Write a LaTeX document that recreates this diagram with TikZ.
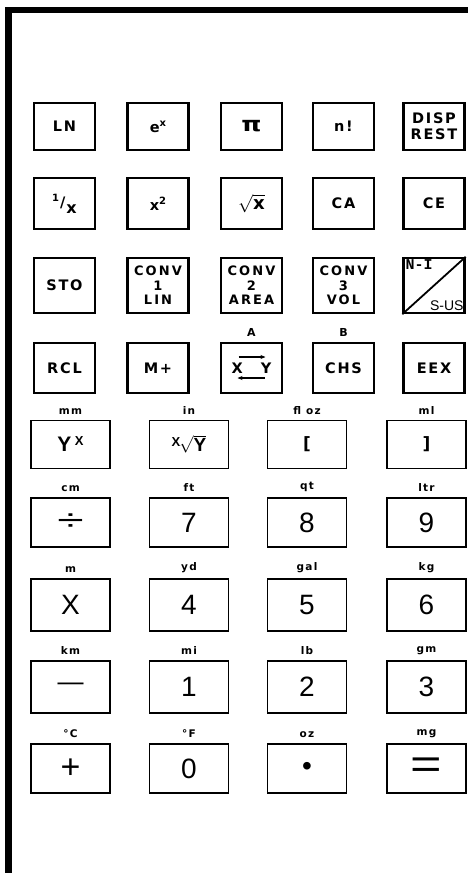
\documentclass[tikz,border=0pt]{standalone}
\usepackage{graphicx}
\usepackage{fontspec}
\setmainfont{Liberation Sans}
\newfontfamily\keyfont[LetterSpace=12]{DejaVu Sans}
\newfontfamily\convfont[LetterSpace=16]{DejaVu Sans}
\newfontfamily\nifont{Liberation Mono}
\usetikzlibrary{arrows.meta}
\begin{document}
\begin{tikzpicture}[x=1pt,y=-1pt,
  smallkey/.style={draw, line width=2.3pt, minimum width=61pt, inner sep=0pt, align=center,
    font=\keyfont\bfseries\fontsize{14.5}{16}\selectfont},
  convkey/.style={smallkey, font=\convfont\bfseries\fontsize{13}{14.5}\selectfont},
  bigkey/.style={draw, line width=1.8pt, minimum width=79pt, inner sep=0pt,
    font=\fontsize{28}{30}\selectfont},
  unit/.style={anchor=south, inner sep=0pt, yshift=5pt,
    font=\keyfont\bfseries\fontsize{10.5}{11}\selectfont},
  keyarrow/.style={line width=1.3pt, -{Stealth[length=5pt,width=4pt]}},
  framebar/.style={line width=6.5pt},
]
\useasboundingbox (0,0) rectangle (468,873);
\fill[white] (0,0) rectangle (468,873);
% frame
\draw[framebar] (5,10) -- (468,10);
\draw[line width=7pt] (8.5,7) -- (8.5,873);

% ---------- row 1
\node[smallkey, minimum height=47pt] (ln)   at (64.5,126.5) {LN};
\node[smallkey, minimum height=47pt] (ex)   at (158,126.5)  {e\raisebox{6pt}{\fontsize{10}{10}\selectfont x}};
\node[smallkey, minimum height=47pt] (pi)   at (251.5,126.5){\scalebox{1.5}[1.2]{\fontsize{17}{17}\selectfont π}};
\node[smallkey, minimum height=47pt] (fact) at (343.5,126.5){n!};
\node[smallkey, minimum height=47pt] (disp) at (434,126.5)  {DISP\\REST};

% ---------- row 2
\node[smallkey, minimum height=51pt] (inv)  at (64.5,203.5)
  {\raisebox{6pt}{\fontsize{10}{10}\selectfont 1}\kern1pt/\kern1pt\raisebox{-6pt}{\fontsize{16}{16}\selectfont x}};
\node[smallkey, minimum height=51pt] (sq)   at (158,203.5)  {x\raisebox{6pt}{\fontsize{10}{10}\selectfont 2}};
\node[smallkey, minimum height=51pt] (sqrt) at (251.5,203.5){\scalebox{1.25}{$\sqrt{\mbox{x}}$}};
\node[smallkey, minimum height=51pt] (ca)   at (343.5,203.5){CA};
\node[smallkey, minimum height=51pt] (ce)   at (434,203.5)  {CE};

% ---------- row 3
\node[smallkey, minimum height=55pt] (sto)  at (64.5,285.5) {STO};
\node[convkey, minimum height=55pt] (conv1) at (158,285.5)  {CONV\\1\\LIN};
\node[convkey, minimum height=55pt] (conv2) at (251.5,285.5){CONV\\2\\AREA};
\node[convkey, minimum height=55pt] (conv3) at (343.5,285.5){CONV\\3\\VOL};
\node[smallkey, minimum height=55pt] (ni)   at (434,285.5)  {};
\draw[line width=1.8pt] (ni.south west) -- (ni.north east);
\node[anchor=north west, inner sep=0pt, font=\nifont\bfseries\fontsize{15}{15}\selectfont] (nitext)
  at ([shift={(3,3)}]ni.north west) {N-I};
\node[anchor=south east, inner sep=0pt, font=\fontsize{14}{14}\selectfont] (sustext)
  at ([shift={(-2,-3)}]ni.south east) {S-US};

% ---------- row 4
\node[smallkey, minimum height=50pt] (rcl)  at (64.5,368)   {RCL};
\node[smallkey, minimum height=50pt] (mplus) at (158,368)   {M+};
\node[smallkey, minimum height=50pt] (xy)   at (251.5,368)  {X\hspace{18pt}Y};
\draw[keyarrow] ([shift={(-13,-11)}]xy.center) -- ([shift={(14,-11)}]xy.center);
\draw[keyarrow] ([shift={(13,10)}]xy.center) -- ([shift={(-14,10)}]xy.center);
\node[smallkey, minimum height=50pt] (chs)  at (343.5,368)  {CHS};
\node[smallkey, minimum height=50pt] (eex)  at (434,368)    {EEX};
\node[unit, font=\keyfont\bfseries\fontsize{11}{11}\selectfont] (la) at (xy.north)  {A};
\node[unit, font=\keyfont\bfseries\fontsize{11}{11}\selectfont] (lb) at (chs.north) {B};

% ---------- row 5
\node[bigkey, minimum height=48pt, font=\bfseries\fontsize{21}{24}\selectfont] (yx) at (70.5,444.5)
  {Y\,\raisebox{6pt}{\fontsize{13}{13}\selectfont X}};
\node[bigkey, minimum height=48pt, font=\bfseries\fontsize{19}{21}\selectfont] (xrty) at (189,444.5)
  {\raisebox{5pt}{\fontsize{13}{13}\selectfont X}\kern-1pt$\sqrt{\mbox{Y}}$};
\node[bigkey, minimum height=48pt, font=\keyfont\bfseries\fontsize{17}{20}\selectfont] (lbr) at (307,444.5) {[};
\node[bigkey, minimum height=48pt, font=\keyfont\bfseries\fontsize{17}{20}\selectfont] (rbr) at (426.5,444.5) {]};
\node[unit] (u-mm)  at (yx.north)   {mm};
\node[unit] (u-in)  at (xrty.north) {in};
\node[unit] (u-floz) at (lbr.north) {fl oz};
\node[unit] (u-ml)  at (rbr.north)  {ml};

% ---------- row 6
\node[bigkey, minimum height=49pt] (div)   at (70.5,522.5)
  {\scalebox{1.6}[1]{\fontsize{30}{30}\selectfont ÷}};
\node[bigkey, minimum height=49pt] (seven) at (189,522.5)  {7};
\node[bigkey, minimum height=49pt] (eight) at (307,522.5)  {8};
\node[bigkey, minimum height=49pt] (nine)  at (426.5,522.5){9};
\node[unit] (u-cm)  at (div.north)   {cm};
\node[unit] (u-ft)  at (seven.north) {ft};
\node[unit] (u-qt)  at (eight.north) {qt};
\node[unit] (u-ltr) at (nine.north)  {ltr};

% ---------- row 7
\node[bigkey, minimum height=52pt] (times) at (70.5,605)   {X};
\node[bigkey, minimum height=52pt] (four)  at (189,605)    {4};
\node[bigkey, minimum height=52pt] (five)  at (307,605)    {5};
\node[bigkey, minimum height=52pt] (six)   at (426.5,605)  {6};
\node[unit] (u-m)   at (times.north) {m};
\node[unit] (u-yd)  at (four.north)  {yd};
\node[unit] (u-gal) at (five.north)  {gal};
\node[unit] (u-kg)  at (six.north)   {kg};

% ---------- row 8
\node[bigkey, minimum height=52pt] (minus) at (70.5,687)   {\fontsize{26}{26}\selectfont —};
\node[bigkey, minimum height=52pt] (one)   at (189,687)    {1};
\node[bigkey, minimum height=52pt] (two)   at (307,687)    {2};
\node[bigkey, minimum height=52pt] (three) at (426.5,687)  {3};
\node[unit] (u-km)  at (minus.north) {km};
\node[unit] (u-mi)  at (one.north)   {mi};
\node[unit] (u-lb)  at (two.north)   {lb};
\node[unit] (u-gm)  at (three.north) {gm};

% ---------- row 9
\node[bigkey, minimum height=49pt] (plus)   at (70.5,768.5) {\fontsize{34}{34}\selectfont +};
\node[bigkey, minimum height=49pt] (zero)   at (189,768.5)  {0};
\node[bigkey, minimum height=49pt] (point)  at (307,768.5)  {\raisebox{-4pt}{•}};
\node[bigkey, minimum height=49pt] (equals) at (426.5,768.5)
  {\raisebox{-3pt}{\scalebox{1.8}[1.4]{\fontsize{30}{30}\selectfont =}}};
\node[unit] (u-c)   at (plus.north)   {°C};
\node[unit] (u-f)   at (zero.north)   {°F};
\node[unit] (u-oz)  at (point.north)  {oz};
\node[unit] (u-mg)  at (equals.north) {mg};
\end{tikzpicture}
\end{document}
